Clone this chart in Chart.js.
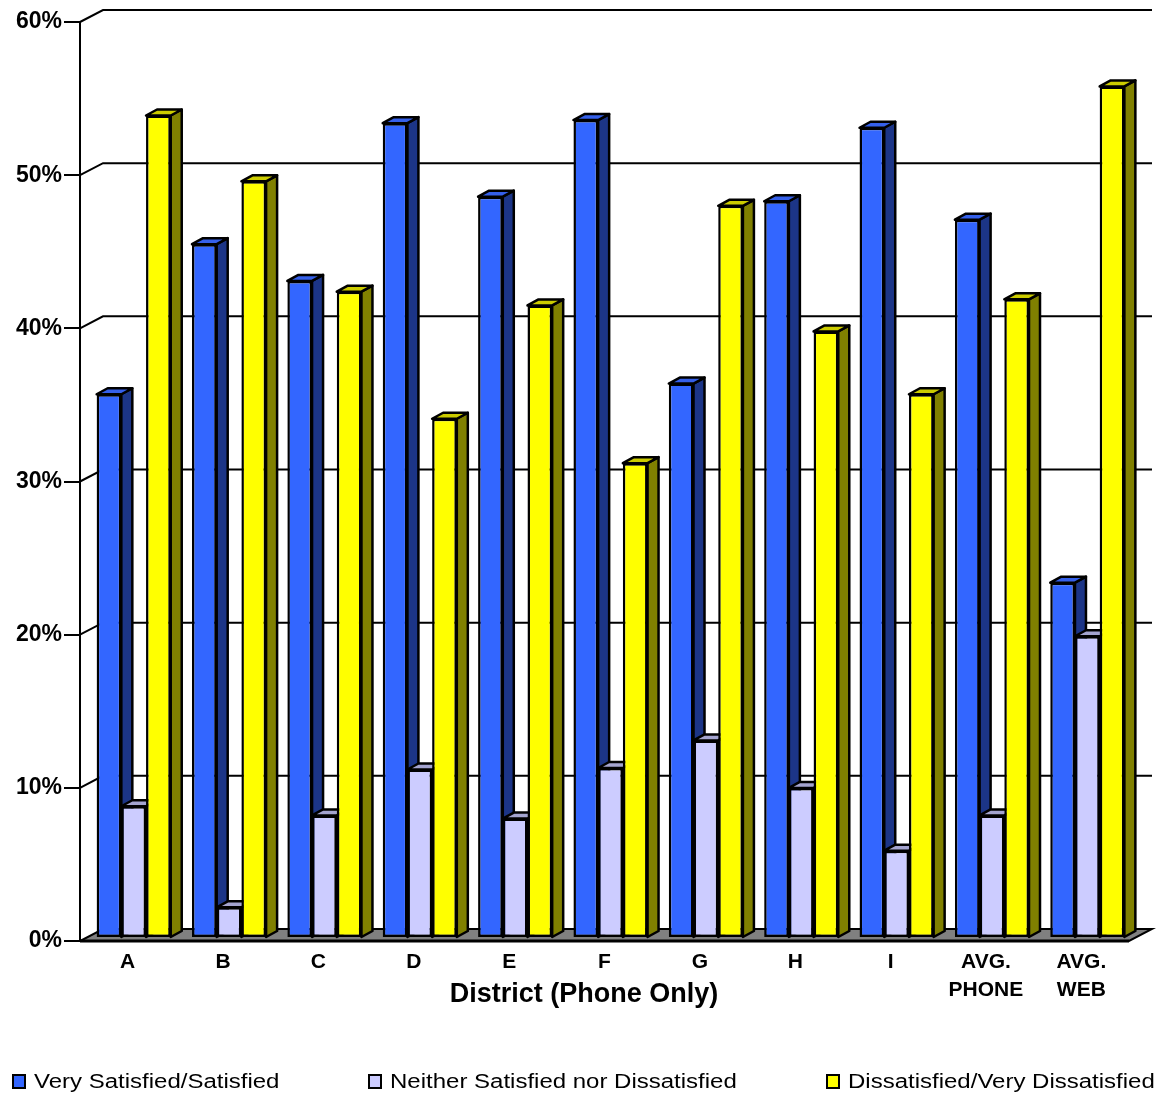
<!DOCTYPE html>
<html>
<head>
<meta charset="utf-8">
<script src="https://cdn.jsdelivr.net/npm/chart.js@4.4.1/dist/chart.umd.min.js"></script>
<style>
  html, body { margin: 0; padding: 0; background: #fff; }
  #wrap { width: 1156px; height: 1095px; position: relative; }
  #chartBox { position: absolute; left: 0; top: 0; width: 1156px; height: 1095px; }
  #legend { position: absolute; left: 0; top: 1066px; width: 1156px; height: 30px; font-family: 'Liberation Sans', Arial, sans-serif; }
  .item { position: absolute; top: 0; height: 30px; display: flex; align-items: center; white-space: nowrap; }
  .swatch { box-sizing: border-box; width: 14px; height: 15px; border: 2px solid #000; }
  .label { margin-left: 8px; font-size: 20px; color: #000; display: inline-block; transform: scaleX(1.2); transform-origin: left center; }
</style>
</head>
<body>
<div id="wrap">
  <div id="chartBox"><canvas id="chart"></canvas></div>
  <div id="legend"></div>
</div>
<script>
// Categories (districts) and survey results, in percent
const categories = ['A', 'B', 'C', 'D', 'E', 'F', 'G', 'H', 'I', ['AVG.', 'PHONE'], ['AVG.', 'WEB']];
const satisfied    = [35.5, 45.3, 42.9, 53.2, 48.4, 53.4, 36.2, 48.1, 52.9, 46.9, 23.2];
const neutral      = [8.6, 2.0, 8.0, 11.0, 7.8, 11.1, 12.9, 9.8, 5.7, 8.0, 19.7];
const dissatisfied = [53.7, 49.4, 42.2, 33.9, 41.3, 31.0, 47.8, 39.6, 35.5, 41.7, 55.6];
const seriesNames  = ['Very Satisfied/Satisfied', 'Neither Satisfied nor Dissatisfied', 'Dissatisfied/Very Dissatisfied'];
const yTickStep = 10;
const yMax = 60;
const xTitle = 'District (Phone Only)';

const FONT = "'Liberation Sans', Arial, sans-serif";

// Face colours: front, top, side
const faces = [
  { front: '#3366FF', top: '#3560EA', side: '#1C3587' },
  { front: '#CCCCFF', top: '#A4A4CF', side: '#66667F' },
  { front: '#FFFF00', top: '#CCCC00', side: '#808000' }
];

// Depth of the plot box, bar inset into the box, and bar depth
const WALL = { dx: 23, dy: -12 };
const INSET = { dx: 6, dy: -3 };
const BAR = { dx: 11, dy: -6 };
const EDGE = 2.5;

function poly(ctx, pts, fill) {
  ctx.beginPath();
  ctx.moveTo(pts[0][0], pts[0][1]);
  for (let i = 1; i < pts.length; i++) ctx.lineTo(pts[i][0], pts[i][1]);
  ctx.closePath();
  ctx.fillStyle = fill;
  ctx.fill();
  ctx.stroke();
}

const box3d = {
  id: 'box3d',
  beforeDatasetsDraw(chart) {
    const { ctx, chartArea: a, scales: { y } } = chart;
    ctx.save();
    ctx.strokeStyle = '#000';
    ctx.lineWidth = 2;
    ctx.lineJoin = 'miter';
    // floor
    poly(ctx, [[a.left, a.bottom], [a.right, a.bottom], [a.right + WALL.dx, a.bottom + WALL.dy], [a.left + WALL.dx, a.bottom + WALL.dy]], '#808080');
    // side-wall diagonals and back-wall gridlines
    y.ticks.forEach(t => {
      if (t.value === 0) return;
      const py = y.getPixelForValue(t.value);
      ctx.beginPath();
      ctx.moveTo(a.left, py);
      ctx.lineTo(a.left + WALL.dx, py + WALL.dy);
      ctx.lineTo(a.right + WALL.dx, py + WALL.dy);
      ctx.stroke();
    });
    ctx.restore();

    // tops and right sides of the bars; fronts are drawn by the bar controller
    ctx.save();
    ctx.translate(INSET.dx, INSET.dy);
    ctx.strokeStyle = '#000';
    ctx.lineWidth = EDGE;
    ctx.lineJoin = 'round';
    const nSets = chart.data.datasets.length;
    for (let i = 0; i < chart.data.labels.length; i++) {
      for (let d = 0; d < nSets; d++) {
        const el = chart.getDatasetMeta(d).data[i];
        const p = el.getProps(['x', 'y', 'base', 'width'], true);
        const l = p.x - p.width / 2, r = p.x + p.width / 2;
        const t = Math.min(p.y, p.base), b = Math.max(p.y, p.base);
        poly(ctx, [[r, t], [r + BAR.dx, t + BAR.dy], [r + BAR.dx, b + BAR.dy], [r, b]], faces[d].side);
        poly(ctx, [[l, t], [l + BAR.dx, t + BAR.dy], [r + BAR.dx, t + BAR.dy], [r, t]], faces[d].top);
      }
    }
    // translation stays active while the fronts are drawn
  },
  afterDatasetsDraw(chart) {
    const { ctx, chartArea: a } = chart;
    ctx.restore();
    ctx.save();
    ctx.strokeStyle = '#000';
    ctx.lineWidth = 3;
    ctx.beginPath();
    ctx.moveTo(a.left, a.bottom);
    ctx.lineTo(a.right, a.bottom);
    ctx.stroke();
    ctx.restore();
  },
  afterDraw(chart) {
    const { ctx } = chart;
    ctx.save();
    ctx.font = 'bold 27px ' + FONT;
    ctx.fillStyle = '#000';
    ctx.textAlign = 'center';
    ctx.textBaseline = 'middle';
    ctx.fillText(xTitle, chart.width / 2 + 6, 995);
    ctx.restore();
  }
};

const seriesData = [satisfied, neutral, dissatisfied];

const chart = new Chart(document.getElementById('chart'), {
  type: 'bar',
  data: {
    labels: categories,
    datasets: seriesData.map((vals, i) => ({
      label: seriesNames[i],
      data: vals,
      backgroundColor: faces[i].front,
      borderColor: '#000',
      borderWidth: EDGE,
      borderSkipped: false,
      barPercentage: 1.0,
      categoryPercentage: 0.777
    }))
  },
  options: {
    responsive: true,
    maintainAspectRatio: false,
    animation: false,
    layout: { padding: { top: 22, right: 27, left: 0, bottom: 80 } },
    plugins: {
      tooltip: { enabled: false },
      legend: { display: false }
    },
    scales: {
      x: {
        grid: { display: false, drawTicks: false },
        border: { display: false },
        ticks: {
          padding: 7,
          color: '#000',
          maxRotation: 0,
          font: { family: FONT, size: 21, weight: 'bold', lineHeight: 1.35 }
        },
        afterFit: s => { s.height = 74; }
      },
      y: {
        min: 0,
        max: yMax,
        grid: { display: true, drawOnChartArea: false, drawTicks: true, tickLength: 16, color: '#000', lineWidth: 2 },
        border: { display: true, color: '#000', width: 2 },
        ticks: {
          stepSize: yTickStep,
          padding: 2,
          color: '#000',
          font: { family: FONT, size: 23, weight: 'bold' },
          callback: v => v + '%'
        },
        afterFit: s => { s.width = 80; }
      }
    }
  },
  plugins: [box3d]
});

// Legend built from the chart's own legend items
const legendLeft = [12, 368, 826];
const legendEl = document.getElementById('legend');
chart.options.plugins.legend.labels.generateLabels(chart).forEach((item, i) => {
  const div = document.createElement('div');
  div.className = 'item';
  div.style.left = legendLeft[i] + 'px';
  const sw = document.createElement('span');
  sw.className = 'swatch';
  sw.style.background = item.fillStyle;
  const tx = document.createElement('span');
  tx.className = 'label';
  tx.textContent = item.text;
  div.appendChild(sw);
  div.appendChild(tx);
  legendEl.appendChild(div);
});
</script>
</body>
</html>
